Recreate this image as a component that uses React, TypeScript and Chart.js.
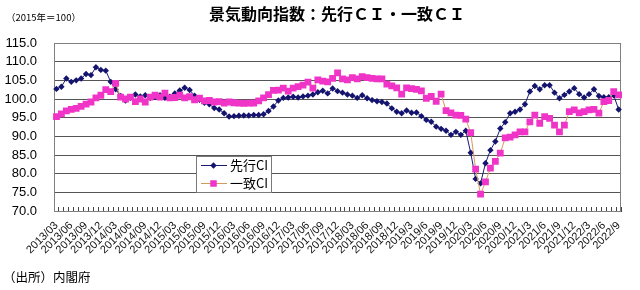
import React, { useEffect, useRef } from "react";
import { Chart, registerables } from "chart.js";

Chart.register(...registerables);

// Quarter tick labels shown under the x axis (one every 3 months)
const tickLabels: string[] = [
  "2013/03", "2013/06", "2013/09", "2013/12",
  "2014/03", "2014/06", "2014/09", "2014/12",
  "2015/03", "2015/06", "2015/09", "2015/12",
  "2016/03", "2016/06", "2016/09", "2016/12",
  "2017/03", "2017/06", "2017/09", "2017/12",
  "2018/03", "2018/06", "2018/09", "2018/12",
  "2019/3", "2019/6", "2019/9", "2019/12",
  "2020/3", "2020/6", "2020/9", "2020/12",
  "2021/3", "2021/6", "2021/9", "2021/12",
  "2022/3", "2022/6", "2022/9",
];

// 先行CI (leading index), monthly 2013/03 - 2022/09
const leadingCI: number[] = [
  102.7, 103.3, 105.5, 104.6, 105.0, 105.5, 106.7, 106.4, 108.5, 107.8,
  107.6, 104.6, 102.6, 100.8, 99.6, 100.3, 101.2, 100.7, 101.0, 100.3,
  100.5, 101.0, 100.3, 100.6, 101.5, 102.3, 103.0, 102.4, 100.9, 99.8,
  99.0, 98.6, 97.6, 97.2, 96.2, 95.3, 95.4, 95.5, 95.6, 95.6,
  95.7, 95.7, 95.9, 96.8, 98.0, 99.6, 100.3, 100.4, 100.6, 100.4,
  100.7, 100.9, 101.2, 101.8, 102.2, 101.5, 102.8, 102.1, 101.7, 101.2,
  100.9, 100.3, 101.0, 100.2, 99.7, 99.4, 99.2, 98.8, 97.5, 96.6,
  96.2, 96.9, 96.3, 96.4, 95.4, 94.4, 93.9, 92.6, 92.0, 91.5,
  90.4, 91.2, 90.4, 91.5, 85.6, 78.6, 77.4, 82.8, 86.3, 88.6,
  92.1, 93.8, 96.2, 96.6, 97.2, 98.6, 102.0, 103.5, 102.6, 103.7,
  103.7, 101.7, 100.2, 101.1, 102.0, 102.9, 101.3, 100.4, 101.3, 102.6,
  100.8, 100.5, 100.5, 101.0, 97.2,
];

// 一致CI (coincident index), monthly 2013/03 - 2022/09
const coincidentCI: number[] = [
  95.3, 96.0, 96.8, 97.2, 97.5, 98.0, 98.6, 99.2, 100.3, 101.0,
  102.5, 102.0, 104.2, 100.5, 100.0, 100.5, 99.3, 100.0, 99.2, 100.5,
  101.0, 100.5, 101.6, 100.3, 100.4, 101.0, 100.3, 100.6, 99.8, 100.2,
  99.5, 99.6, 99.2, 99.3, 98.9, 99.2, 99.0, 98.9, 98.8, 98.9,
  98.9, 99.5, 100.3, 101.2, 102.3, 102.4, 102.9, 102.1, 102.9, 103.3,
  103.7, 104.5, 102.9, 105.1, 104.8, 104.6, 105.5, 107.0, 105.4, 105.1,
  105.7, 105.4, 106.0, 105.7, 105.5, 105.4, 105.4, 104.0, 103.5, 103.0,
  101.3, 103.0, 102.8, 102.6, 102.2, 100.2, 100.7, 99.4, 101.3, 96.9,
  96.3, 95.7, 95.6, 94.6, 91.0, 81.2, 74.5, 77.8, 81.5, 83.3,
  85.5, 89.6, 89.8, 90.4, 91.2, 91.2, 93.9, 95.7, 93.5, 95.3,
  94.8, 93.0, 91.2, 93.0, 96.6, 97.1, 96.3, 96.6, 97.1, 97.2,
  96.2, 99.3, 99.6, 102.0, 101.1,
];

const seriesNames: string[] = ["先行CI", "一致CI"];

// Monthly categories starting at 2013/03
const months: string[] = [];
{
  let y = 2013;
  let m = 3;
  while (months.length < leadingCI.length) {
    months.push(`${y}/${String(m).padStart(2, "0")}`);
    m += 1;
    if (m > 12) {
      m = 1;
      y += 1;
    }
  }
}

const NAVY = "#14146e";
const NAVY_LINE = "#1a1a7a";
const PINK = "#f034c8";
const PINK_LINE = "#d49a5c";
const JP = '"Noto Sans CJK JP", "Noto Sans", sans-serif';
const LAT = '"Liberation Sans", Arial, sans-serif';

const framePlugin = {
  id: "frame",
  beforeDatasetsDraw(chart: any) {
    const { ctx, chartArea } = chart;
    ctx.save();
    ctx.strokeStyle = "#808080";
    ctx.lineWidth = 1;
    ctx.strokeRect(
      Math.round(chartArea.left) + 0.5,
      Math.round(chartArea.top) + 0.5,
      Math.round(chartArea.right - chartArea.left) - 1,
      Math.round(chartArea.bottom - chartArea.top)
    );
    ctx.restore();
  },
  afterDraw(chart: any) {
    // in-plot legend box
    const { ctx } = chart;
    const bx = 196;
    const by = 156;
    const bw = 76;
    const bh = 37;
    ctx.save();
    ctx.fillStyle = "#ffffff";
    ctx.fillRect(bx, by, bw, bh);
    ctx.strokeStyle = "#7a7a7a";
    ctx.lineWidth = 1;
    ctx.strokeRect(bx + 0.5, by + 0.5, bw - 1, bh - 1);
    const rows = [
      { y: 165.5, line: NAVY_LINE, fill: NAVY, style: "rectRot", r: 3.2, text: seriesNames[0] },
      { y: 183.5, line: PINK_LINE, fill: PINK, style: "rect", r: 4.6, text: seriesNames[1] },
    ];
    rows.forEach((row) => {
      ctx.strokeStyle = row.line;
      ctx.lineWidth = 1;
      ctx.beginPath();
      ctx.moveTo(201, row.y);
      ctx.lineTo(227, row.y);
      ctx.stroke();
      ctx.fillStyle = row.fill;
      ctx.beginPath();
      if (row.style === "rectRot") {
        ctx.moveTo(213.5, row.y - row.r);
        ctx.lineTo(213.5 + row.r, row.y);
        ctx.lineTo(213.5, row.y + row.r);
        ctx.lineTo(213.5 - row.r, row.y);
        ctx.closePath();
      } else {
        const s = row.r * Math.SQRT1_2;
        ctx.rect(213.5 - s, row.y - s, 2 * s, 2 * s);
      }
      ctx.fill();
      ctx.fillStyle = "#000";
      ctx.font = `13px ${JP}`;
      ctx.textBaseline = "middle";
      ctx.textAlign = "left";
      ctx.fillText(row.text, 230, row.y);
    });
    ctx.restore();
  },
};

export default function App() {
  const canvasRef = useRef<HTMLCanvasElement | null>(null);

  useEffect(() => {
    const canvas = canvasRef.current;
    if (!canvas) return;
    const chart = new Chart(canvas, {
      type: "line",
      data: {
        labels: months,
        datasets: [
          {
            label: seriesNames[1],
            data: coincidentCI,
            borderColor: PINK_LINE,
            borderWidth: 1,
            pointStyle: "rect",
            pointRadius: 4.8,
            pointBackgroundColor: PINK,
            pointBorderColor: PINK,
            pointBorderWidth: 0,
            tension: 0,
          },
          {
            label: seriesNames[0],
            data: leadingCI,
            borderColor: NAVY_LINE,
            borderWidth: 1,
            pointStyle: "rectRot",
            pointRadius: 3.2,
            pointBackgroundColor: NAVY,
            pointBorderColor: NAVY,
            pointBorderWidth: 0,
            tension: 0,
          },
        ],
      },
      options: {
        animation: false,
        responsive: false,
        events: [],
        layout: { padding: { top: 43, right: 7, left: 0, bottom: 0 } },
        plugins: {
          legend: { display: false },
          title: { display: false },
          tooltip: { enabled: false },
        },
        scales: {
          x: {
            offset: true,
            grid: {
              offset: true,
              drawOnChartArea: false,
              tickLength: -4,
              color: "#444",
            },
            border: { display: true, color: "#444" },
            ticks: {
              autoSkip: false,
              minRotation: 45,
              maxRotation: 45,
              padding: 12,
              color: "#111",
              font: { family: LAT, size: 11 },
              callback: (_v: any, idx: number) =>
                idx % 3 === 0 ? tickLabels[idx / 3] ?? "" : "",
            },
            afterFit: (s: any) => {
              s.height = 79;
            },
          },
          y: {
            min: 70,
            max: 115,
            grid: { color: "#555", tickLength: 0 },
            border: { display: true, color: "#444" },
            ticks: {
              stepSize: 5,
              padding: 17,
              color: "#000",
              font: { family: LAT, size: 13 },
              callback: (v: any) => Number(v).toFixed(1),
            },
            afterFit: (s: any) => {
              s.width = 54;
            },
          },
        },
      },
      plugins: [framePlugin],
    });
    return () => chart.destroy();
  }, []);

  return (
    <div
      style={{
        position: "absolute",
        left: 0,
        top: 0,
        width: 640,
        height: 290,
        background: "#fff",
        overflow: "hidden",
      }}
    >
      <canvas ref={canvasRef} width={640} height={290} style={{ position: "absolute", left: 0, top: 0 }} />
      <div
        style={{
          position: "absolute",
          left: 209,
          top: 5,
          fontFamily: JP,
          fontWeight: "bold",
          fontSize: 16,
          lineHeight: "16px",
          whiteSpace: "nowrap",
          color: "#000",
        }}
      >
        景気動向指数：先行ＣＩ・一致ＣＩ
      </div>
      <div
        style={{
          position: "absolute",
          left: 6,
          top: 12,
          fontFamily: JP,
          fontSize: 9.5,
          lineHeight: "10px",
          whiteSpace: "nowrap",
          color: "#000",
        }}
      >
        （2015年＝100）
      </div>
      <div
        style={{
          position: "absolute",
          left: 3,
          top: 270,
          fontFamily: JP,
          fontSize: 12.5,
          lineHeight: "14px",
          whiteSpace: "nowrap",
          color: "#000",
        }}
      >
        （出所）内閣府
      </div>
    </div>
  );
}
